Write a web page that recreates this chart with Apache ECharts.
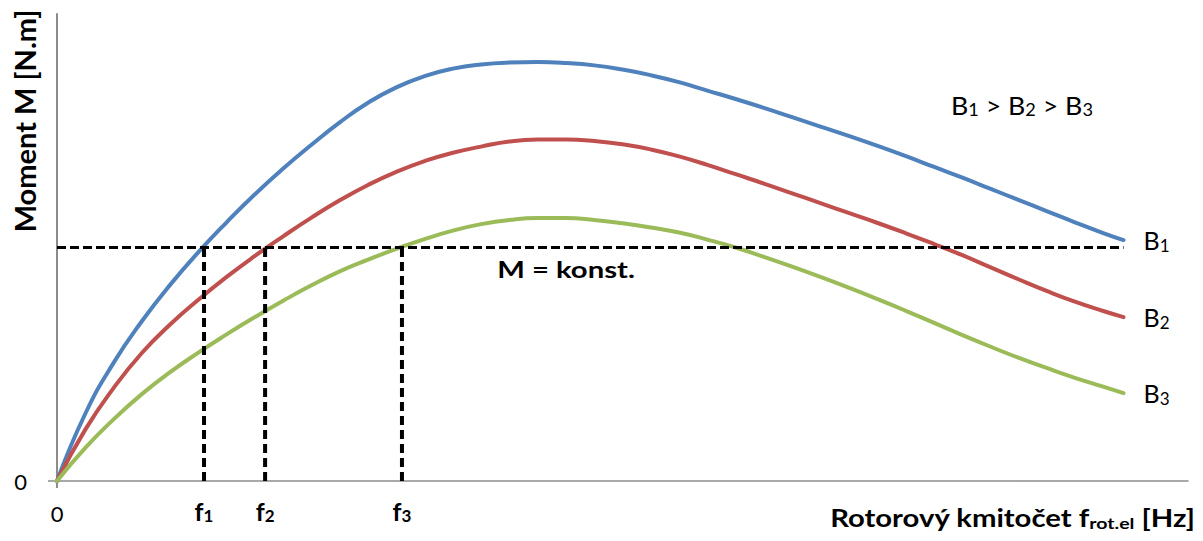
<!DOCTYPE html>
<html>
<head>
<meta charset="utf-8">
<script src="https://cdn.jsdelivr.net/npm/echarts@6/dist/echarts.min.js"></script>
<style>
  html, body { margin: 0; padding: 0; background: #fff; }
  #chart { width: 1203px; height: 541px; }
</style>
</head>
<body>
<div id="chart"></div>
<script>
// Rotor electrical frequency samples (relative units, 0..100 spans the axis)
const freq = [0, 2.5, 5, 7.5, 10, 12.5, 15, 17.5, 20, 22.5,
              25, 27.5, 30, 32.5, 35, 37.5, 40, 42.5, 45, 47.5,
              50, 52.5, 55, 57.5, 60, 62.5, 65, 67.5, 70, 72.5,
              75, 77.5, 80, 82.5, 85, 87.5, 90, 92.5, 94.3];

// Torque M for the three flux densities B1 > B2 > B3 (relative units, 0..100 spans the axis)
const torqueB1 = [0, 14.4, 25.3, 34.2, 42.0, 49.0, 55.4, 61.4, 66.9, 72.0,
                  76.8, 81.0, 84.3, 86.7, 88.3, 89.2, 89.6, 89.7, 89.5, 89.0,
                  88.1, 86.9, 85.4, 83.6, 81.8, 79.9, 77.9, 75.9, 73.9, 71.8,
                  69.6, 67.3, 65.0, 62.6, 60.2, 57.8, 55.4, 53.1, 51.6];
const torqueB2 = [0, 11.0, 19.9, 27.4, 33.5, 38.8, 43.7, 48.2, 52.4, 56.4,
                  60.1, 63.4, 66.2, 68.5, 70.3, 71.6, 72.7, 73.1, 73.1, 72.8,
                  72.1, 71.0, 69.5, 67.7, 65.7, 63.7, 61.6, 59.5, 57.4, 55.3,
                  53.1, 50.8, 48.4, 45.8, 43.2, 40.7, 38.4, 36.4, 35.1];
const torqueB3 = [0, 7.1, 13.2, 18.6, 23.3, 27.5, 31.4, 35.1, 38.6, 41.9,
                  44.9, 47.4, 49.7, 51.8, 53.6, 55.0, 55.9, 56.3, 56.3, 55.9,
                  55.2, 54.3, 53.2, 51.7, 50.0, 48.0, 45.9, 43.7, 41.4, 39.0,
                  36.5, 33.9, 31.3, 28.8, 26.4, 24.2, 22.1, 20.2, 18.8];

// Constant load torque and the operating frequencies where each curve meets it
const loadTorque = 50;
const opFreq = [13.0, 18.4, 30.5];
const opIndex = ['1', '2', '3'];

const curveNames = ['B1', 'B2', 'B3'];
const curveColors = ['#4F81BD', '#C0504D', '#9BBB59'];

const FONT = 'Lato, "Open Sans", sans-serif';
const AXIS_COLOR = '#8C8C8C';

const chart = echarts.init(document.getElementById('chart'), null, { renderer: 'svg' });

const toPairs = ys => freq.map((f, i) => [f, ys[i]]);

// Rich-text styles for a letter followed by a subscript
const subRich = (size, subSize, weight) => ({
  b: { fontFamily: FONT, fontSize: size, fontWeight: weight, color: '#000', lineHeight: size + 2 },
  s: { fontFamily: FONT, fontSize: subSize, fontWeight: weight, color: '#000', lineHeight: 10, verticalAlign: 'bottom' }
});

// The three torque-speed curves, each labelled at its right end
const curveSeries = [torqueB1, torqueB2, torqueB3].map((ys, k) => ({
  type: 'line',
  name: curveNames[k],
  data: toPairs(ys),
  smooth: 0.5,
  symbol: 'none',
  z: 2,
  lineStyle: { color: curveColors[k], width: 4, cap: 'round' },
  itemStyle: { color: curveColors[k] },
  endLabel: {
    show: true,
    distance: 20,
    formatter: () => '{b|B}{s|' + (k + 1) + '}',
    rich: subRich(25, 17, 'normal')
  }
}));

// Horizontal dashed line of the constant load torque
const loadSeries = {
  type: 'line',
  name: 'M = konst.',
  data: [[0, loadTorque], [freq[freq.length - 1], loadTorque]],
  symbol: 'none',
  z: 3,
  lineStyle: { color: '#000', width: 3, type: [9, 4] }
};

// Vertical dashed drop lines at f1, f2, f3
const dropSeries = opFreq.map(f => ({
  type: 'line',
  data: [[f, 0], [f, loadTorque]],
  symbol: 'none',
  z: 3,
  lineStyle: { color: '#000', width: 4, type: [9, 5] }
}));

const option = {
  animation: false,
  backgroundColor: '#fff',
  grid: { left: 57, right: 15, top: 14, bottom: 60 },
  xAxis: {
    type: 'value',
    min: 0,
    max: 100,
    splitLine: { show: false },
    axisLine: { show: true, lineStyle: { color: AXIS_COLOR, width: 1.5 } },
    axisTick: { show: true, customValues: [0], length: 7, lineStyle: { color: AXIS_COLOR, width: 2 } },
    axisLabel: {
      customValues: [0].concat(opFreq),
      margin: 17,
      formatter: v => {
        const i = opFreq.indexOf(v);
        return i < 0 ? '{z|0}' : '{f|f}{s|' + opIndex[i] + '}';
      },
      rich: {
        z: { fontFamily: FONT, fontSize: 22, color: '#000', lineHeight: 26, padding: [4, 0, 0, 0] },
        f: { fontFamily: FONT, fontSize: 25, fontWeight: 'bold', color: '#000', lineHeight: 26 },
        s: { fontFamily: FONT, fontSize: 17, fontWeight: 'bold', color: '#000', lineHeight: 10, verticalAlign: 'bottom' }
      }
    }
  },
  yAxis: {
    type: 'value',
    min: 0,
    max: 100,
    splitLine: { show: false },
    axisLine: { show: true, lineStyle: { color: AXIS_COLOR, width: 2 } },
    axisTick: { show: true, customValues: [0], length: 9, lineStyle: { color: AXIS_COLOR, width: 1.5 } },
    axisLabel: { customValues: [0], margin: 30, fontFamily: FONT, fontSize: 22, color: '#000' }
  },
  graphic: [
    {
      type: 'text', x: 24, y: 121, rotation: Math.PI / 2,
      style: { text: 'Moment M [N.m]', fontFamily: FONT, fontSize: 29, fontWeight: 'bold', fill: '#000', align: 'center', verticalAlign: 'middle' }
    },
    {
      type: 'text', x: 1195, y: 518, scaleX: 1.22,
      style: {
        text: '{b|Rotorový kmitočet f}{s|rot.el}{b| [Hz]}',
        align: 'right', verticalAlign: 'middle',
        rich: subRich(24, 16, 'bold')
      }
    },
    {
      type: 'text', x: 566, y: 270, scaleX: 1.33,
      style: { text: 'M = konst.', fontFamily: FONT, fontSize: 22, fontWeight: 'bold', fill: '#000', align: 'center', verticalAlign: 'middle' }
    },
    {
      type: 'text', x: 951, y: 105, scaleX: 1.07,
      style: {
        text: '{b|B}{s|1}{b| > B}{s|2}{b| > B}{s|3}',
        align: 'left', verticalAlign: 'middle',
        rich: subRich(25, 17, 'normal')
      }
    }
  ],
  series: curveSeries.concat([loadSeries], dropSeries)
};

chart.setOption(option);
</script>
</body>
</html>
